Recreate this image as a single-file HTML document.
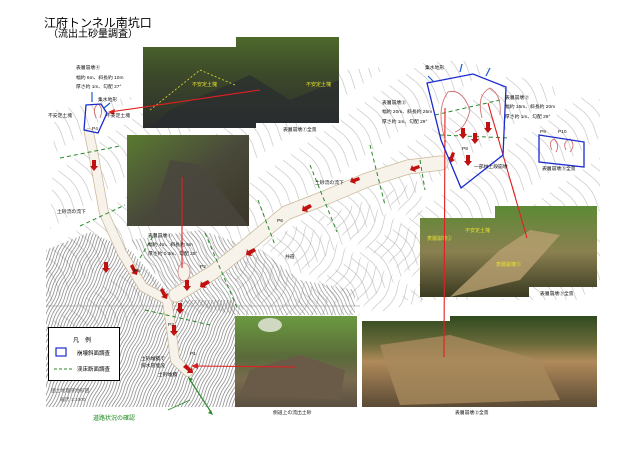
<!DOCTYPE html>
<html><head><meta charset="utf-8"><style>
html,body{margin:0;padding:0;background:#fff;}
svg{display:block;font-family:"Liberation Serif","Noto Serif CJK SC","Noto Sans CJK JP",serif;}
.s{font-family:"Liberation Sans","Noto Sans CJK JP",sans-serif;}
</style></head><body>
<svg width="640" height="452" viewBox="0 0 640 452" xmlns="http://www.w3.org/2000/svg">
<defs>
<pattern id="hatch" width="3" height="30" patternUnits="userSpaceOnUse" patternTransform="rotate(25)">
<path d="M1 0 Q2.5 8 1 15 Q-0.5 22 1 30" fill="none" stroke="#666" stroke-width="0.6"/>
</pattern>
<pattern id="hatch2" width="3.5" height="30" patternUnits="userSpaceOnUse" patternTransform="rotate(-30)">
<path d="M1 0 Q2.5 8 1 15 Q-0.5 22 1 30" fill="none" stroke="#777" stroke-width="0.55"/>
</pattern>
<pattern id="cont" width="10" height="60" patternUnits="userSpaceOnUse" patternTransform="rotate(-35)">
<path d="M2 0 Q8 15 2 30 Q-4 45 2 60" fill="none" stroke="#999" stroke-width="0.5"/>
</pattern>
<pattern id="cont2" width="9" height="50" patternUnits="userSpaceOnUse" patternTransform="rotate(30)">
<path d="M2 0 Q7 12 2 25 Q-3 38 2 50" fill="none" stroke="#999" stroke-width="0.5"/>
</pattern>
<linearGradient id="p1" x1="0" y1="0" x2="0" y2="1"><stop offset="0" stop-color="#4d6a2c"/><stop offset="0.4" stop-color="#3d4a2a"/><stop offset="1" stop-color="#2b2d2c"/></linearGradient>
<linearGradient id="p2" x1="0" y1="0" x2="1" y2="1"><stop offset="0" stop-color="#5a7a30"/><stop offset="0.5" stop-color="#4a4a3a"/><stop offset="1" stop-color="#3a3528"/></linearGradient>
<linearGradient id="p3" x1="0" y1="0" x2="0" y2="1"><stop offset="0" stop-color="#5c8a35"/><stop offset="0.5" stop-color="#8a8050"/><stop offset="1" stop-color="#3a3a22"/></linearGradient>
<linearGradient id="p4" x1="0" y1="0" x2="0" y2="1"><stop offset="0" stop-color="#6b9a40"/><stop offset="0.45" stop-color="#5a6a3a"/><stop offset="0.7" stop-color="#7a6a50"/><stop offset="1" stop-color="#5a5040"/></linearGradient>
<linearGradient id="p5" x1="0" y1="0" x2="0" y2="1"><stop offset="0" stop-color="#2f4a1e"/><stop offset="0.3" stop-color="#6a6a3a"/><stop offset="0.5" stop-color="#b08a5a"/><stop offset="1" stop-color="#5a4a35"/></linearGradient>
</defs>

<!-- light contours -->
<path d="M55 110 L230 80 L460 60 L600 100 L600 300 L360 300 L240 310 L46 330 Z" fill="url(#cont)" opacity="0.8"/>
<path d="M235 250 L420 180 L430 300 L362 316 L235 316 Z" fill="url(#cont2)" opacity="0.8"/>
<!-- dense hatched region -->
<path d="M46 250 L90 232 L130 250 L175 300 L235 300 L235 407 L46 407 Z" fill="url(#hatch)"/>
<path d="M130 240 L200 230 L260 250 L300 280 L355 290 L355 315 L235 315 L175 300 Z" fill="url(#hatch2)"/>
<line x1="46" y1="306" x2="360" y2="306" stroke="#888" stroke-width="0.6"/>

<!-- roads -->
<path d="M89 133 L94 157 L104 213 L122 253 L143 287 L167 300 L171 327 L175 360 L188 372" fill="none" stroke="#c8b898" stroke-width="10" stroke-linecap="round" stroke-linejoin="round"/>
<path d="M89 133 L94 157 L104 213 L122 253 L143 287 L167 300 L171 327 L175 360 L188 372" fill="none" stroke="#f7f2ea" stroke-width="8.5" stroke-linecap="round" stroke-linejoin="round"/>
<path d="M176 295 L212 273 L245 247 L286 213 L327 197 L367 180 L408 167 L441 163" fill="none" stroke="#c8b898" stroke-width="15" stroke-linecap="round" stroke-linejoin="round"/>
<path d="M176 295 L212 273 L245 247 L286 213 L327 197 L367 180 L408 167 L441 163" fill="none" stroke="#f7f2ea" stroke-width="13.5" stroke-linecap="round" stroke-linejoin="round"/>
<ellipse cx="184" cy="272" rx="6" ry="9" fill="#f7f2ea" stroke="#c88" stroke-width="0.8"/>

<!-- green dashed lines -->
<g stroke="#2a8a2a" stroke-width="1" stroke-dasharray="4,3" fill="none">
<line x1="60" y1="158" x2="120" y2="146"/>
<line x1="80" y1="226" x2="125" y2="205"/>
<line x1="140" y1="258" x2="155" y2="233"/>
<line x1="145" y1="310" x2="210" y2="325"/>
<line x1="205" y1="233" x2="238" y2="310"/>
<line x1="258" y1="200" x2="275" y2="245"/>
<line x1="310" y1="165" x2="337" y2="232"/>
<line x1="370" y1="145" x2="385" y2="205"/>
<line x1="420" y1="160" x2="425" y2="190"/>
<line x1="435" y1="115" x2="500" y2="100"/>
<line x1="440" y1="135" x2="510" y2="138"/>
</g>

<!-- photos -->
<path d="M143 47 L236 47 L236 37 L339 37 L339 123 L256 123 L256 128 L143 128 Z" fill="url(#p1)"/>
<path d="M170 110 L250 75 L290 100 L339 80 L339 123 L256 123 L256 128 L150 128 Z" fill="#2a2c30" opacity="0.7"/>
<path d="M150 110 L200 70 L235 85" fill="none" stroke="#e8e030" stroke-width="0.8" stroke-dasharray="2,2"/>
<text x="192" y="86" font-size="5" fill="#e8e030" class="s">不安定土塊</text>
<text x="306" y="86" font-size="5" fill="#e8e030" class="s">不安定土塊</text>
<rect x="127" y="135" width="122" height="91" fill="url(#p2)"/>
<path d="M150 226 L170 160 L200 165 L249 226 Z" fill="#4a463e" opacity="0.8"/>
<path d="M420 218 L495 218 L495 206 L597 206 L597 287 L529 287 L529 297 L420 297 Z" fill="url(#p3)"/>
<path d="M450 297 L500 250 L530 230 L560 235 L520 280 Z" fill="#b8a070" opacity="0.8"/>
<text x="465" y="232" font-size="5" fill="#e8e030" class="s">不安定土塊</text>
<text x="427" y="240" font-size="5" fill="#e8e030" class="s">表層崩壊②</text>
<text x="496" y="266" font-size="5" fill="#e8e030" class="s">表層崩壊③</text>
<rect x="235" y="316" width="122" height="91" fill="url(#p4)"/>
<ellipse cx="270" cy="325" rx="12" ry="7" fill="#cfd8c0"/>
<path d="M240 395 L250 370 L300 355 L345 370 L340 400 Z" fill="#6a5a48"/>
<path d="M362 321 L450 321 L450 316 L597 316 L597 407 L362 407 Z" fill="url(#p5)"/>
<path d="M380 345 L450 335 L540 360 L560 400 L400 405 Z" fill="#a88a5c" opacity="0.8"/>

<!-- red lines -->
<g stroke="#e02020" stroke-width="1.1" fill="none">
<line x1="260" y1="90" x2="110" y2="112"/>
<line x1="182" y1="177" x2="182" y2="268"/>
<line x1="445" y1="108" x2="444" y2="357"/>
<line x1="488" y1="103" x2="527" y2="238"/>
<line x1="296" y1="367" x2="194" y2="366"/>
</g>
<path d="M108 112 L115 109 L114 115 Z" fill="#e02020"/>
<path d="M191 366 L198 363 L198 369 Z" fill="#e02020"/>

<!-- red flow arrows -->
<g fill="#c01010">
<path d="M92 160 l4 0 l0 6 l2 0 l-4 5 l-4 -5 l2 0 z"/>
<path d="M104 262 l4 0 l0 6 l2 0 l-4 5 l-4 -5 l2 0 z"/>
<path d="M130 266 l3 -2 l3 6 l2 -1 l-1 6 l-6 -2 l2 -1 z"/>
<path d="M160 290 l3 -2 l3 6 l2 -1 l-1 6 l-6 -2 l2 -1 z"/>
<path d="M178 303 l4 0 l0 6 l2 0 l-4 5 l-4 -5 l2 0 z"/>
<path d="M172 325 l4 0 l0 6 l2 0 l-4 5 l-4 -5 l2 0 z"/>
<path d="M185 280 l4 0 l0 6 l2 0 l-4 5 l-4 -5 l2 0 z"/>
<path d="M183 367 l3 -3 l5 5 l1 -2 l1 6 l-6 0 l1 -2 z"/>
<path d="M210 283 l-2 -3 l-6 3 l-1 -2 l-1 6 l6 1 l-1 -2 z"/>
<path d="M256 251 l-2 -3 l-6 3 l-1 -2 l-1 6 l6 1 l-1 -2 z"/>
<path d="M312 207 l-2 -3 l-6 3 l-1 -2 l-1 6 l6 1 l-1 -2 z"/>
<path d="M360 180 l-1 -3 l-6 2 l-1 -2 l-2 5 l6 2 l-1 -2 z"/>
<path d="M420 168 l-1 -3 l-6 2 l-1 -2 l-2 5 l6 2 l-1 -2 z"/>
<path d="M461 128 l4 0 l0 6 l2 0 l-4 5 l-4 -5 l2 0 z"/>
<path d="M473 133 l4 0 l0 6 l2 0 l-4 5 l-4 -5 l2 0 z"/>
<path d="M486 122 l4 0 l0 6 l2 0 l-4 5 l-4 -5 l2 0 z"/>
<path d="M452 152 l3 1 l-2 6 l2 1 l-5 3 l-2 -6 l2 0 z"/>
<path d="M466 155 l4 0 l0 6 l2 0 l-4 5 l-4 -5 l2 0 z"/>
</g>

<!-- scarp shapes -->
<g fill="none" stroke="#d07070" stroke-width="0.9">
<path d="M446 142 Q435 110 448 92 Q462 88 470 110 Q466 128 455 132"/>
<path d="M482 118 Q476 95 490 88 Q502 95 500 115"/>
<path d="M96 118 Q92 108 98 104 Q104 108 100 118"/>
<path d="M552 150 Q548 142 554 139 Q560 145 556 152"/>
<path d="M566 150 Q562 142 570 139 Q576 145 570 152"/>
</g>

<!-- blue boxes -->
<g fill="none" stroke="#1a2ad0" stroke-width="1.3">
<path d="M86 105 L101 104 L107 113 L98 133 L84 130 Z"/>
<path d="M427 83 L473 74 L506 87 L503 155 L461 188 L441 140 Z"/>
<path d="M539 135 L584 142 L584 167 L539 162 Z"/>
</g>
<g stroke="#1a5ad0" stroke-width="1.2">
<line x1="92" y1="92" x2="92" y2="102"/><line x1="110" y1="103" x2="104" y2="108"/>
<line x1="428" y1="76" x2="434" y2="82"/><line x1="462" y1="64" x2="460" y2="72"/><line x1="490" y1="68" x2="486" y2="76"/>
</g>

<!-- green arrow -->
<line x1="190" y1="380" x2="211" y2="412" stroke="#2a8a2a" stroke-width="1.2"/>
<path d="M188 377 l5 2 l-3 3 z M213 415 l-5 -2 l3 -3 z" fill="#2a8a2a"/>
<line x1="168" y1="410" x2="190" y2="400" stroke="#2a8a2a" stroke-width="0.7"/>

<!-- legend -->
<rect x="48.5" y="327.5" width="71" height="53" fill="#fff" stroke="#000" stroke-width="1"/>
<text x="73" y="342" font-size="6" class="s">凡　例</text>
<rect x="56" y="348" width="10" height="8" fill="none" stroke="#1a2ad0" stroke-width="1.2"/>
<text x="77" y="355" font-size="5.5" class="s">崩壊斜面調査</text>
<line x1="54" y1="369" x2="72" y2="369" stroke="#2a8a2a" stroke-width="1" stroke-dasharray="3,2"/>
<text x="77" y="371" font-size="5.5" class="s">渓床断面調査</text>

<!-- title -->
<text x="44" y="27" font-size="12" class="s">江府トンネル南坑口</text>
<text x="48" y="37" font-size="10" class="s">（流出土砂量調査）</text>

<!-- labels -->
<g font-size="4.8" class="s" fill="#111">
<text x="76" y="69">表層崩壊④</text>
<text x="76" y="79">幅約 6m、斜長約 10m</text>
<text x="76" y="88">厚さ約 1m、勾配 27°</text>
<text x="98" y="101">集水地形</text>
<text x="48" y="117">不安定土塊</text>
<text x="106" y="117">不安定土塊</text>
<text x="57" y="213">土砂流の流下</text>
<text x="148" y="237">表層崩壊①</text>
<text x="148" y="246">幅約 4m、斜長約 5m</text>
<text x="148" y="255">厚さ約 0.3m、勾配 25°</text>
<text x="315" y="184">土砂流の流下</text>
<text x="285" y="258">弁道</text>
<text x="425" y="69">集水地形</text>
<text x="382" y="104">表層崩壊②</text>
<text x="382" y="113">幅約 20m、斜長約 25m</text>
<text x="382" y="123">厚さ約 1m、勾配 29°</text>
<text x="505" y="99">表層崩壊③</text>
<text x="505" y="108">幅約 15m、斜長約 20m</text>
<text x="505" y="118">厚さ約 1m、勾配 29°</text>
<text x="474" y="168">一部林上段崩壊</text>
<text x="542" y="170">表層崩壊⑤全景</text>
<text x="141" y="360">土砂堆積で</text>
<text x="141" y="367">排水管埋没</text>
<text x="158" y="376">土砂堆積</text>
<text x="51" y="392" fill="#555">国土地理院地形図</text>
<text x="60" y="401" fill="#555">縮尺 1:1000</text>
<text x="93" y="420" font-size="6" fill="#1a8a1a">道路状況の確認</text>
<text x="283" y="131">表層崩壊①全景</text>
<text x="540" y="295">表層崩壊③全景</text>
<text x="273" y="414">側道上の流出土砂</text>
<text x="455" y="414">表層崩壊②全景</text>
<text x="540" y="133">P9</text><text x="558" y="133">P10</text>
<text x="92" y="130">P4</text><text x="134" y="272">P5</text><text x="168" y="326">P3</text><text x="190" y="355">P1</text>
<text x="277" y="222">P6</text><text x="200" y="268">P2</text><text x="462" y="150">P8</text>
</g>
</svg>
</body></html>
